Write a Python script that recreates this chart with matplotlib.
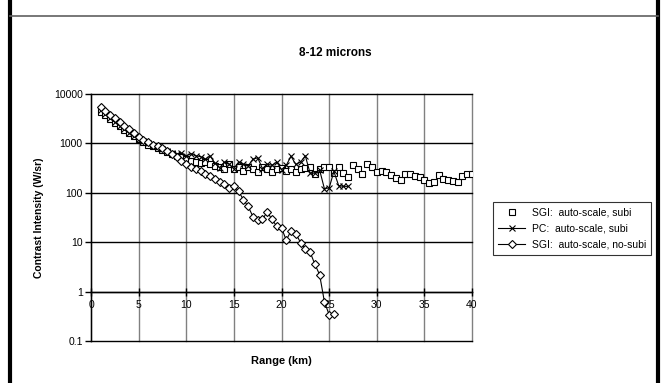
import numpy as np
import matplotlib.pyplot as plt
from matplotlib.lines import Line2D
from matplotlib.ticker import FixedLocator, FuncFormatter

plt.rcParams['font.family'] = ['Liberation Sans', 'DejaVu Sans']

# SGI auto-scale, subi (squares, no line) - range in km, intensity in W/sr
sgi_subi_x = [1.0, 1.5, 2.0, 2.5, 3.0, 3.5, 4.0, 4.5, 5.0, 5.5, 6.0, 6.5, 7.0, 7.5,
              8.0, 8.5, 9.0, 9.5, 10.0, 10.5, 11.0, 11.5, 12.0, 12.5, 13.0, 13.5,
              14.0, 14.5, 15.0, 15.5, 16.0, 16.5, 17.0, 17.5, 18.0, 18.5, 19.0, 19.5,
              20.0, 20.5, 21.0, 21.5, 22.0, 22.5, 23.0, 23.5, 24.0, 24.5, 25.0, 25.5,
              26.0, 26.5, 27.0, 27.5, 28.0, 28.5, 29.0, 29.5, 30.0, 30.5, 31.0, 31.5,
              32.0, 32.5, 33.0, 33.5, 34.0, 34.5, 35.0, 35.5, 36.0, 36.5, 37.0, 37.5,
              38.0, 38.5, 39.0, 39.5, 40.0]
sgi_subi_y = [4300, 3700, 3100, 2600, 2200, 1900, 1600, 1400, 1200, 1050, 950, 880, 800, 720,
              660, 600, 560, 520, 480, 450, 430, 400, 420, 380, 350, 340,
              300, 380, 300, 330, 280, 340, 300, 260, 330, 300, 265, 300,
              320, 280, 310, 260, 300, 320, 330, 245, 300, 330, 330, 255,
              330, 255, 210, 360, 310, 245, 375, 330, 265, 275, 265, 225,
              200, 178, 245, 235, 215, 210, 185, 158, 165, 225, 187, 178,
              175, 165, 220, 245, 240]

# PC auto-scale, subi (x markers with line)
pc_x = [1.0, 1.5, 2.0, 2.5, 3.0, 3.5, 4.0, 4.5, 5.0, 5.5, 6.0, 6.5, 7.0, 7.5,
        8.0, 8.5, 9.0, 9.5, 10.0, 10.5, 11.0, 11.5, 12.0, 12.5, 13.0, 13.5,
        14.0, 14.5, 15.0, 15.5, 16.0, 16.5, 17.0, 17.5, 18.0, 18.5, 19.0, 19.5,
        20.0, 20.5, 21.0, 21.5, 22.0, 22.5, 23.0, 23.5, 24.0, 24.5, 25.0, 25.5,
        26.0, 26.5, 27.0]
pc_y = [4700, 3900, 3200, 2700, 2300, 1950, 1650, 1400, 1250, 1100, 1000, 900, 830, 760,
        700, 650, 600, 640, 560, 620, 560, 540, 480, 560, 400, 320,
        420, 380, 310, 420, 380, 350, 480, 510, 310, 380, 360, 420,
        295, 360, 550, 375, 420, 560, 250, 250, 290, 122, 125, 270,
        140, 135, 135]

# SGI auto-scale, no-subi (diamonds with line)
sgi_nosubi_x = [1.0, 1.5, 2.0, 2.5, 3.0, 3.5, 4.0, 4.5, 5.0, 5.5, 6.0, 6.5, 7.0, 7.5,
                8.0, 8.5, 9.0, 9.5, 10.0, 10.5, 11.0, 11.5, 12.0, 12.5, 13.0, 13.5,
                14.0, 14.5, 15.0, 15.5, 16.0, 16.5, 17.0, 17.5, 18.0, 18.5, 19.0, 19.5,
                20.0, 20.5, 21.0, 21.5, 22.0, 22.5, 23.0, 23.5, 24.0, 24.5, 25.0, 25.5]
sgi_nosubi_y = [5500, 4600, 3800, 3200, 2700, 2300, 1950, 1650, 1350, 1150, 1050, 950, 880, 800,
                700, 620, 530, 450, 390, 340, 310, 270, 240, 215, 190, 168,
                150, 128, 137, 108, 72, 53, 33, 28, 29, 41, 29, 21,
                19.5, 11, 17, 15, 9.8, 7.3, 6.3, 3.6, 2.2, 0.63, 0.34, 0.36]

x_ticks = [0, 5, 10, 15, 20, 25, 30, 35, 40]
y_ticks = [0.1, 1, 10, 100, 1000, 10000]

W, H = 661, 383
fig = plt.figure(figsize=(W / 100, H / 100), dpi=100)
ax = fig.add_axes([91 / W, 1 - 341 / H, (472 - 91) / W, (341 - 94) / H])

# series, drawn in Excel order
ax.plot(sgi_subi_x, sgi_subi_y, linestyle='none', marker='s', markersize=5,
        markerfacecolor='white', markeredgecolor='black', markeredgewidth=0.8,
        label='SGI:  auto-scale, subi')
ax.plot(pc_x, pc_y, color='black', linewidth=0.8, marker='x', markersize=5,
        markeredgewidth=0.8, label='PC:  auto-scale, subi')
ax.plot(sgi_nosubi_x, sgi_nosubi_y, color='black', linewidth=0.8, marker='D',
        markersize=4, markerfacecolor='white', markeredgecolor='black',
        markeredgewidth=0.8, label='SGI:  auto-scale, no-subi')

ax.set_yscale('log')
ax.set_xlim(0, 40)
ax.set_ylim(0.1, 10000)
ax.xaxis.set_major_locator(FixedLocator(x_ticks))
ax.yaxis.set_major_locator(FixedLocator(y_ticks))
ax.yaxis.set_minor_locator(FixedLocator([]))
ax.yaxis.set_major_formatter(FuncFormatter(lambda v, p: '%g' % v))

# gridlines: grey verticals, black horizontals
for xv in x_ticks:
    ax.axvline(xv, color='#808080', linewidth=1.0, zorder=0, clip_on=False)
for yv in y_ticks:
    ax.axhline(yv, color='black', linewidth=1.0, zorder=0, clip_on=False)

# x axis crosses at 1, like Excel
ax.spines['top'].set_visible(False)
ax.spines['right'].set_visible(False)
ax.spines['bottom'].set_position(('data', 1))
ax.spines['bottom'].set_linewidth(1.0)
ax.spines['left'].set_linewidth(1.0)
ax.tick_params(axis='x', direction='inout', length=6, width=1.0, pad=3, labelsize=7.5)
ax.tick_params(axis='y', direction='out', length=4, width=1.0, pad=2, labelsize=7.5)

ax.set_xlabel('Range (km)', fontsize=8, fontweight='bold')
ax.xaxis.set_label_coords(0.5, -0.06)
ax.set_ylabel('Contrast Intensity (W/sr)', fontsize=7.5, fontweight='bold')
ax.yaxis.set_label_coords(-0.123, 0.5)

fig.text(335 / W, 1 - 53 / H, '8-12 microns', fontsize=8.5, fontweight='bold',
         ha='center', va='center')

leg = fig.legend(loc='upper left', bbox_to_anchor=(493 / W, 1 - 202 / H),
                 fontsize=7.5, frameon=True, fancybox=False, edgecolor='black',
                 handlelength=2.6, borderpad=0.5, labelspacing=0.6, handletextpad=0.6,
                 borderaxespad=0)
leg.get_frame().set_linewidth(0.8)

# page frame around the chart
fig.add_artist(Line2D([10 / W, 10 / W], [0, 1], color='black', linewidth=3))
fig.add_artist(Line2D([658 / W, 658 / W], [0, 1], color='black', linewidth=3))
fig.add_artist(Line2D([10 / W, 658 / W], [1 - 16 / H, 1 - 16 / H], color='#606060', linewidth=1.2))

fig.savefig('out.png', dpi=100)
